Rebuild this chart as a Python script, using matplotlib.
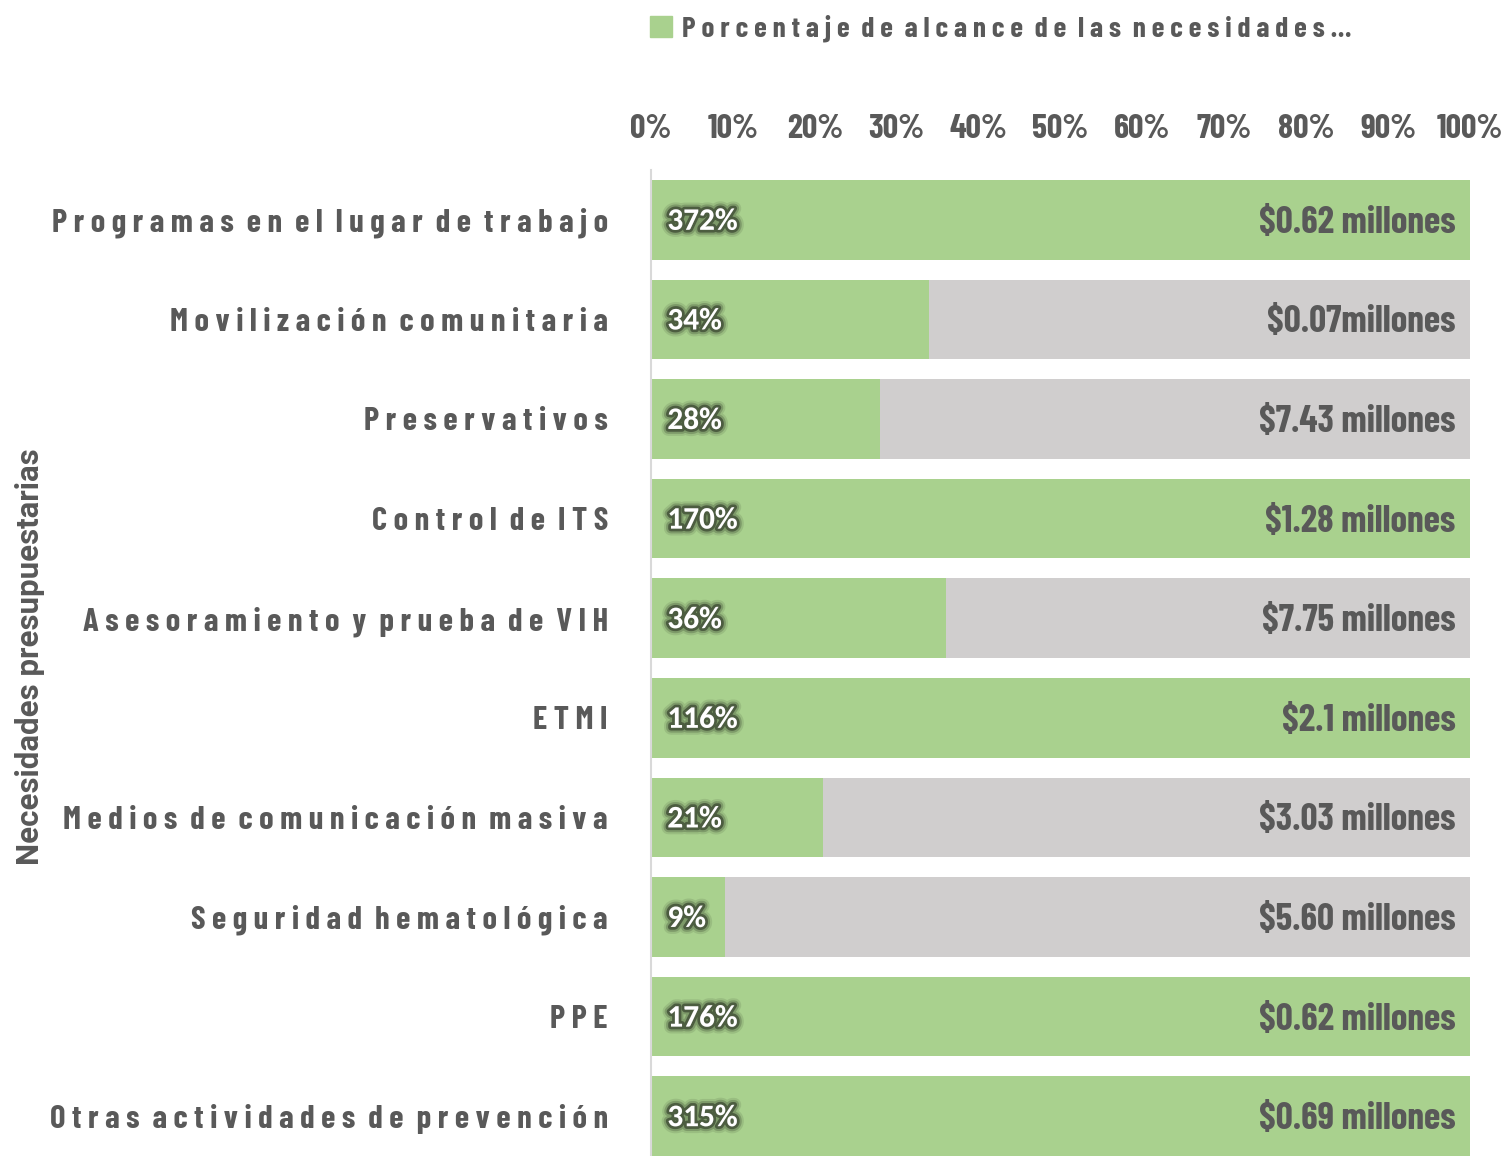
import matplotlib
matplotlib.use('Agg')
import matplotlib.pyplot as plt
import matplotlib.patheffects as pe
from matplotlib import font_manager
from matplotlib.font_manager import FontProperties
from matplotlib.patches import Patch

categories = ['Programas en el lugar de trabajo', 'Movilización comunitaria',
              'Preservativos', 'Control de ITS', 'Asesoramiento y prueba de VIH',
              'ETMI', 'Medios de comunicación masiva', 'Seguridad hematológica',
              'PPE', 'Otras actividades de prevención']
pct_reached = [372, 34, 28, 170, 36, 116, 21, 9, 176, 315]
budget_labels = ['$0.62 millones', '$0.07millones', '$7.43 millones', '$1.28 millones',
                 '$7.75 millones', '$2.1 millones', '$3.03 millones', '$5.60 millones',
                 '$0.62 millones', '$0.69 millones']
ticks = list(range(0, 101, 10))
legend_text = 'Porcentaje de alcance de las necesidades…'
ylabel = 'Necesidades presupuestarias'

green = '#a9d18e'
grey = '#d0cece'
text_col = '#595959'

fonts = font_manager.fontManager.ttflist


def font_weight(f):
    w = f.weight
    return w if isinstance(w, int) else font_manager.weight_dict.get(w, 400)


def pick(names, lo=600, hi=800):
    # first upright face of the wanted weight, by family preference
    for n in names:
        for f in fonts:
            if f.name == n and f.style == 'normal' and lo <= font_weight(f) <= hi:
                return f.fname
    return None


def props(fname, family, size, weight='bold'):
    if fname:
        return FontProperties(fname=fname, size=size)
    return FontProperties(family=family, weight=weight, size=size)


narrow_file = pick(['Barlow Condensed', 'Barlow Semi Condensed', 'Roboto Condensed',
                    'Fira Sans Condensed', 'Noto Sans Condensed', 'Open Sans Condensed',
                    'Liberation Sans Narrow', 'Archivo Narrow', 'PT Sans Narrow',
                    'IBM Plex Sans Condensed', 'Ubuntu Condensed'])
pct_file = pick(['Carlito', 'Lato', 'Open Sans'])
ylab_file = pick(['Roboto', 'Noto Sans', 'Open Sans'], lo=500, hi=700)


def spaced(s):
    # wide tracking: a space between letters, two between words
    return '  '.join(' '.join(w) for w in s.split(' '))


fig = plt.figure(figsize=(15.09, 11.56), dpi=100)
ax = fig.add_axes([651 / 1509, 0, 819 / 1509, 986 / 1156])

y = list(range(len(categories)))
filled = [min(p, 100) for p in pct_reached]
rest = [100 - f for f in filled]

ax.barh(y, filled, height=0.8, color=green)
ax.barh(y, rest, left=filled, height=0.8, color=grey)

glow = [pe.withStroke(linewidth=10, foreground='#3f4c36', alpha=0.15),
        pe.withStroke(linewidth=7, foreground='#3f4c36', alpha=0.3),
        pe.withStroke(linewidth=4, foreground='#38432f', alpha=0.7)]
for i, p in enumerate(pct_reached):
    ax.text(2, i + 0.02, f'{p}%', va='center', ha='left', color='white',
            path_effects=glow, fontproperties=props(pct_file, 'Lato', 22.5))
    ax.text(98.2, i + 0.03, budget_labels[i], va='center', ha='right', color=text_col,
            fontproperties=props(narrow_file, 'DejaVu Sans', 27))

ax.set_xlim(0, 100)
ax.set_ylim(9.4, -0.5)
ax.xaxis.tick_top()
ax.set_xticks(ticks)
ax.set_xticklabels([f'{t}%' for t in ticks], color=text_col,
                   fontproperties=props(narrow_file, 'DejaVu Sans', 24.5))
ax.set_yticks(y)
ax.set_yticklabels([spaced(c) for c in categories], color=text_col,
                   fontproperties=props(narrow_file, 'DejaVu Sans', 23.5))
ax.tick_params(axis='x', length=0, pad=19)
ax.tick_params(axis='y', length=0, pad=31)

for s in ['top', 'right', 'bottom']:
    ax.spines[s].set_visible(False)
ax.spines['left'].set_color('#d9d9d9')
ax.spines['left'].set_linewidth(1.5)

fig.text(30 / 1509, 1 - 657 / 1156, ylabel, rotation=90, ha='center', va='center',
         color=text_col, fontproperties=props(ylab_file, 'Roboto', 22.5))

leg = fig.legend(handles=[Patch(color=green, label=spaced(legend_text))],
                 loc='upper left', bbox_to_anchor=(624 / 1509, 1.01), frameon=False,
                 handlelength=0.75, handleheight=0.75, handletextpad=0.35,
                 prop=props(narrow_file, 'DejaVu Sans', 21))
for t in leg.get_texts():
    t.set_color(text_col)

fig.savefig('out.png', dpi=100)
